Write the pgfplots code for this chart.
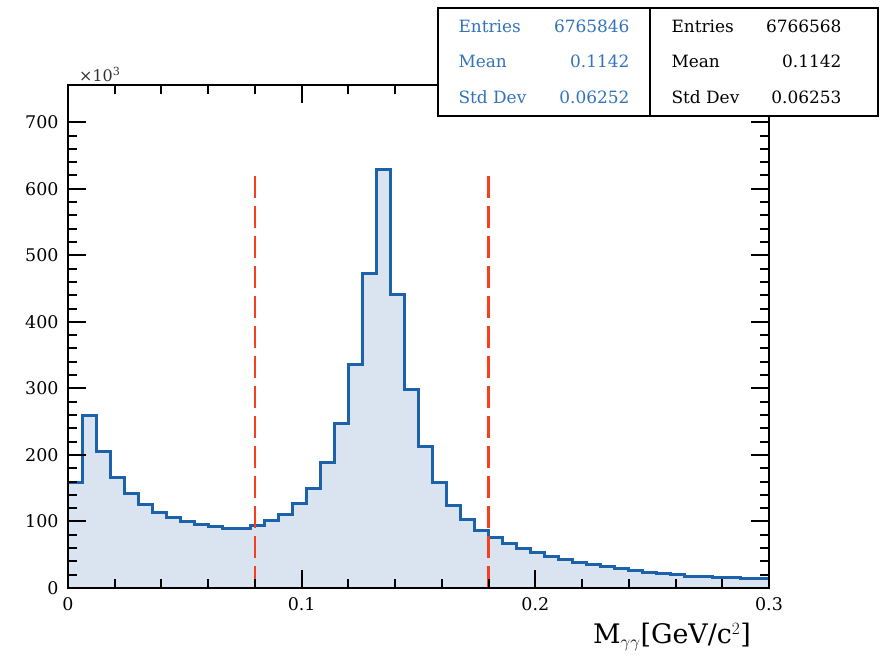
\documentclass[border=0pt]{standalone}
\usepackage{fontspec}
\setmainfont{DejaVu Serif}
\usepackage{pgfplots}
\pgfplotsset{compat=1.18}
\definecolor{hblue}{RGB}{28,98,170}
\definecolor{hfill}{RGB}{218,228,240}
\definecolor{sblue}{RGB}{50,115,185}
\definecolor{cutred}{RGB}{248,62,28}
\begin{document}
\begin{tikzpicture}[x=1bp,y=1bp]
\useasboundingbox (-68,-73) rectangle (813,588);
\begin{axis}[at={(0,0)}, anchor=south west, scale only axis,
  width=701bp, height=503bp,
  xmin=0, xmax=0.3, ymin=0, ymax=756,
  axis on top,
  axis line style={line width=2bp},
  tick pos=both, tick align=inside,
  xtick={0,0.1,0.2,0.3}, minor x tick num=4,
  ytick={0,100,...,700}, minor y tick num=4,
  major tick length=18bp, minor tick length=9bp,
  tick style={black, line width=2bp},
  ticklabel style={font=\fontsize{17.5}{20}\selectfont},
  xticklabel style={yshift=-6bp},
  yticklabel style={xshift=-6bp},
  /pgf/number format/assume math mode=true,
  scaled y ticks=false,
]
\addplot[const plot, draw=hblue, line width=3bp, fill=hfill] coordinates {
(0,0) (0,159) (0.006,259) (0.012,205) (0.018,166) (0.024,142) (0.030,126) (0.036,114) (0.042,106) (0.048,100) (0.054,95) (0.060,92) (0.066,90) (0.072,90) (0.078,94) (0.084,101) (0.090,111) (0.096,127) (0.102,150) (0.108,188) (0.114,247) (0.120,336) (0.126,473) (0.132,629) (0.138,441) (0.144,298) (0.150,212) (0.156,159) (0.162,124) (0.168,103) (0.174,87) (0.180,76) (0.186,67) (0.192,59) (0.198,53) (0.204,48) (0.210,43) (0.216,39) (0.222,35) (0.228,32) (0.234,29) (0.240,27) (0.246,24) (0.252,22) (0.258,20) (0.264,18) (0.270,17) (0.276,16) (0.282,15.5) (0.288,14.5) (0.294,14) (0.3,14) (0.3,0)
};
\addplot[cutred, line width=2.5bp, dash pattern=on 22bp off 8bp] coordinates {(0.08,0) (0.08,624)};
\addplot[cutred, line width=2.5bp, dash pattern=on 22bp off 8bp] coordinates {(0.18,0) (0.18,624)};
\end{axis}
\node[anchor=south west, inner sep=0, font=\fontsize{16}{18}\selectfont, text=black!80] at (11,506) {×10\textsuperscript{3}};
\node[font=\fontsize{27}{30}\selectfont] at (604,-49) {M$_{\gamma\gamma}$[GeV/c$^2$]};
% stat boxes
\draw[line width=2bp, fill=white] (370,472) rectangle (582,580);
\draw[line width=2bp, fill=white] (582,472) rectangle (810,580);
\begin{scope}[font=\fontsize{17}{20}\selectfont]
\node[anchor=base west, text=sblue] at (387,555) {Entries};
\node[anchor=base west, text=sblue] at (387,520) {Mean};
\node[anchor=base west, text=sblue] at (387,484) {Std Dev};
\node[anchor=base east, text=sblue] at (565,555) {6765846};
\node[anchor=base east, text=sblue] at (565,520) {0.1142};
\node[anchor=base east, text=sblue] at (565,484) {0.06252};
\node[anchor=base west] at (600,555) {Entries};
\node[anchor=base west] at (600,520) {Mean};
\node[anchor=base west] at (600,484) {Std Dev};
\node[anchor=base east] at (777,555) {6766568};
\node[anchor=base east] at (777,520) {0.1142};
\node[anchor=base east] at (777,484) {0.06253};
\end{scope}
\end{tikzpicture}
\end{document}
